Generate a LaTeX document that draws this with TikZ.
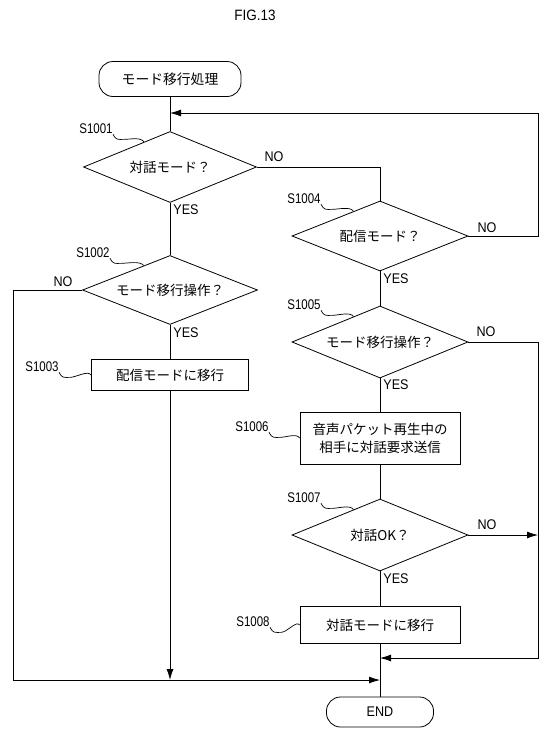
\documentclass[tikz,border=0pt]{standalone}
\usepackage{fontspec}
\setmainfont{Liberation Sans}
\newfontfamily\jp{Noto Sans CJK JP}
\newfontfamily\stepfont{Liberation Sans}[FakeStretch=0.82]
\newfontfamily\ynfont{Liberation Sans}[FakeStretch=0.9]
\usetikzlibrary{shapes.geometric,arrows.meta,calc}
\newcommand\squig[2]{\draw[squigline] (#1.south east) .. controls +(3,6) and +(-6,0) .. ($(#1.south east)+(11,5)$) .. controls +(6,0) and +(-3,-5) .. (#2);}
\begin{document}
\begin{tikzpicture}[x=1pt,y=-1pt,line width=0.8pt,
  dec/.style={diamond, aspect=2.5, draw, inner sep=0pt, minimum width=176, minimum height=71, font=\jp\fontsize{13.5}{15}\selectfont},
  proc/.style={rectangle, draw, inner sep=0pt, minimum width=160, minimum height=37, align=center, font=\jp\fontsize{13.5}{18}\selectfont},
  term/.style={rectangle, draw, rounded corners=14pt, inner sep=0pt},
  lbl/.style={font=\stepfont\fontsize{14}{15}\selectfont, inner sep=0pt},
  yn/.style={font=\ynfont\fontsize{14}{15}\selectfont, inner sep=0pt},
  arr/.style={-{Latex[length=11pt,width=7pt]}},
  squigline/.style={line width=0.7pt}]
\fill[white] (0,0) rectangle (540,729);
\useasboundingbox (0,0) rectangle (540,729);

\node[font=\ynfont\fontsize{15}{16}\selectfont] (fig) at (255,15) {FIG.13};

\node[term, minimum width=142, minimum height=35, font=\jp\fontsize{13.8}{15}\selectfont] (st) at (170,79) {モード移行処理};
\node[dec, minimum width=173] (d1) at (170,167) {対話モード？};
\node[dec, minimum width=175, minimum height=69] (d2) at (170,290) {モード移行操作？};
\node[proc, minimum width=157, minimum height=31] (b3) at (170,375) {配信モードに移行};
\node[dec, minimum height=70] (d4) at (380,236) {配信モード？};
\node[dec, minimum height=72] (d5) at (380,342) {モード移行操作？};
\node[proc, minimum height=52] (b6) at (380,438) {音声パケット再生中の\\相手に対話要求送信};
\node[dec, minimum height=72] (d7) at (380,535) {対話OK？};
\node[proc] (b8) at (380,625) {対話モードに移行};
\node[term, minimum width=107, minimum height=30, font=\ynfont\fontsize{14}{15}\selectfont] (en) at (380,712) {END};

\coordinate (jtop) at (170,113);
\coordinate (jbot) at (380,680);
\coordinate (jmid) at (380,658);
\coordinate (rx) at (538,0);
\coordinate (lx) at (13,0);

\draw (st) -- (d1);
\draw (d1) -- (d2);
\draw (d2) -- (b3);
\draw (d1.east) -| (d4.north);
\draw[arr] (d4.east) -| (rx |- jtop) -- (jtop);
\draw[arr] (d2.west) -| (lx |- jbot) -- (jbot);
\draw[arr] (b3.south) -- (b3.south |- jbot);
\draw (d4) -- (d5);
\draw (d5) -- (b6);
\draw (b6) -- (d7);
\draw (d7) -- (b8);
\draw (b8) -- (en);
\draw[arr] (d5.east) -| (rx |- jmid) -- (jmid);
\draw[arr] (d7.east) -- (d7.east -| rx);

\node[lbl] (l1) at (96,129) {S1001};
\node[lbl] (l2) at (93,253) {S1002};
\node[lbl] (l3) at (42,367) {S1003};
\node[lbl] (l4) at (304,199) {S1004};
\node[lbl] (l5) at (304,305) {S1005};
\node[lbl] (l6) at (252,427) {S1006};
\node[lbl] (l7) at (304,498) {S1007};
\node[lbl] (l8) at (253,622) {S1008};

\squig{l1}{$(d1.north)!0.3!(d1.west)$}
\squig{l2}{$(d2.north)!0.3!(d2.west)$}
\squig{l3}{b3.west}
\squig{l4}{$(d4.north)!0.3!(d4.west)$}
\squig{l5}{$(d5.north)!0.3!(d5.west)$}
\squig{l6}{b6.west}
\squig{l7}{$(d7.north)!0.3!(d7.west)$}
\squig{l8}{b8.west}

\node[yn] (n1) at (274,157) {NO};
\node[yn, anchor=west] (y1) at (173,210) {YES};
\node[yn] (n2) at (63,282) {NO};
\node[yn, anchor=west] (y2) at (173,333) {YES};
\node[yn] (n4) at (487,228) {NO};
\node[yn, anchor=west] (y4) at (383,279) {YES};
\node[yn] (n5) at (486,332) {NO};
\node[yn, anchor=west] (y5) at (383,385) {YES};
\node[yn] (n7) at (487,525) {NO};
\node[yn, anchor=west] (y7) at (383,579) {YES};
\end{tikzpicture}
\end{document}
